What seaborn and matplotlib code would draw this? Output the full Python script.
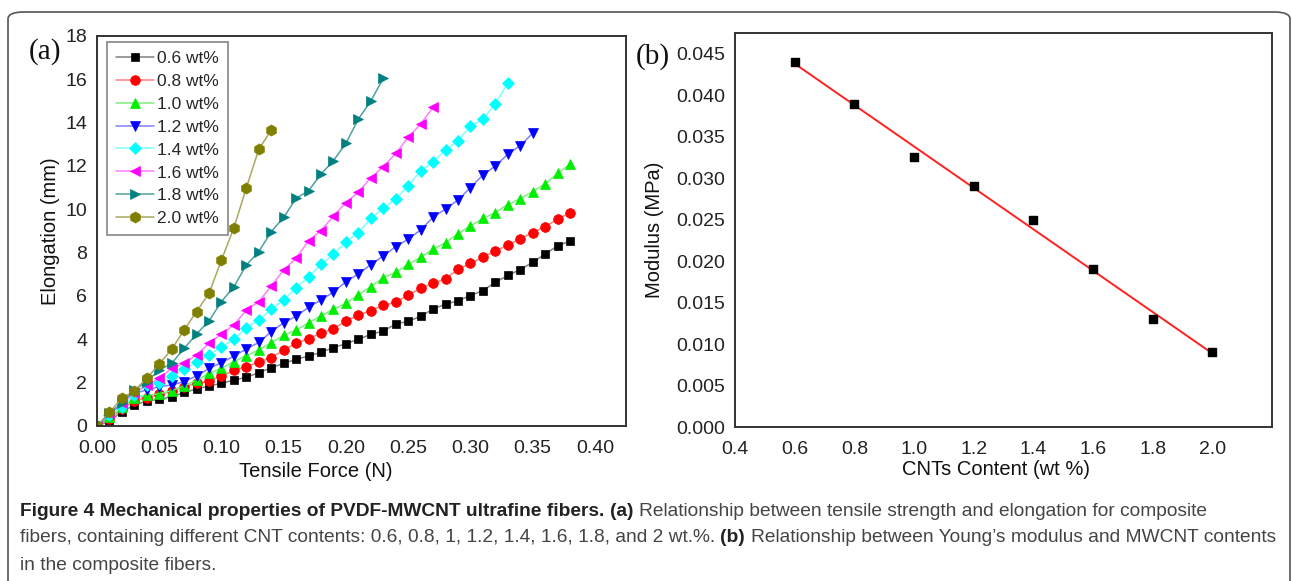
import numpy as np
import pandas as pd
import seaborn as sns
import matplotlib.pyplot as plt
from matplotlib.patches import FancyBboxPatch
from matplotlib.ticker import MultipleLocator

# ---- data ----
force = [0.00, 0.01, 0.02, 0.03, 0.04, 0.05, 0.06, 0.07, 0.08, 0.09,
         0.10, 0.11, 0.12, 0.13, 0.14, 0.15, 0.16, 0.17, 0.18, 0.19,
         0.20, 0.21, 0.22, 0.23, 0.24, 0.25, 0.26, 0.27, 0.28, 0.29,
         0.30, 0.31, 0.32, 0.33, 0.34, 0.35, 0.36, 0.37, 0.38]

elong_06 = [0, 0.23, 0.66, 0.97, 1.15, 1.23, 1.35, 1.55, 1.71, 1.85,
            1.97, 2.12, 2.25, 2.46, 2.69, 2.89, 3.08, 3.23, 3.40, 3.62,
            3.80, 4.00, 4.23, 4.38, 4.71, 4.83, 5.06, 5.40, 5.62, 5.78,
            6.02, 6.25, 6.63, 6.95, 7.22, 7.55, 7.94, 8.31, 8.54]
elong_08 = [0, 0.34, 0.77, 1.17, 1.31, 1.46, 1.60, 1.82, 1.97, 2.08,
            2.30, 2.57, 2.74, 2.95, 3.15, 3.51, 3.82, 4.03, 4.28, 4.48,
            4.85, 5.11, 5.32, 5.57, 5.71, 6.05, 6.35, 6.58, 6.80, 7.23,
            7.51, 7.78, 8.08, 8.34, 8.65, 8.92, 9.20, 9.54, 9.85]
elong_10 = [0, 0.40, 0.86, 1.28, 1.43, 1.48, 1.63, 1.85, 2.12, 2.43,
            2.66, 2.97, 3.25, 3.51, 3.85, 4.18, 4.43, 4.77, 5.09, 5.38,
            5.66, 6.06, 6.43, 6.85, 7.09, 7.46, 7.78, 8.15, 8.46, 8.88,
            9.23, 9.58, 9.85, 10.22, 10.49, 10.82, 11.17, 11.66, 12.08]
elong_12 = [0, 0.46, 1.05, 1.51, 1.66, 1.82, 1.89, 2.05, 2.31, 2.66,
            2.92, 3.23, 3.55, 3.86, 4.35, 4.77, 5.06, 5.48, 5.82, 6.18,
            6.66, 7.02, 7.45, 7.85, 8.28, 8.62, 9.05, 9.63, 10.02, 10.43,
            11.00, 11.58, 12.00, 12.54, 12.94, 13.51]
elong_14 = [0, 0.51, 0.89, 1.43, 1.89, 2.00, 2.31, 2.62, 2.94, 3.28,
            3.66, 4.00, 4.54, 4.89, 5.38, 5.82, 6.38, 6.88, 7.46, 7.92,
            8.51, 8.92, 9.58, 10.05, 10.48, 11.09, 11.77, 12.20, 12.74, 13.15,
            13.85, 14.15, 14.88, 15.82]
elong_16 = [0, 0.58, 1.05, 1.54, 1.89, 2.20, 2.66, 2.89, 3.28, 3.82,
            4.25, 4.66, 5.35, 5.74, 6.46, 7.20, 7.74, 8.55, 9.02, 9.69,
            10.31, 10.80, 11.45, 11.97, 12.58, 13.32, 13.94, 14.71]
elong_18 = [0, 0.58, 1.05, 1.66, 2.05, 2.58, 2.89, 3.58, 4.25, 4.85,
            5.74, 6.43, 7.43, 8.05, 8.97, 9.63, 10.51, 10.86, 11.63, 12.25,
            13.05, 14.17, 15.00, 16.05]
elong_20 = [0, 0.63, 1.28, 1.63, 2.20, 2.86, 3.54, 4.43, 5.28, 6.12,
            7.66, 9.15, 11.00, 12.77, 13.66]

series_labels = ['0.6 wt%', '0.8 wt%', '1.0 wt%', '1.2 wt%',
                 '1.4 wt%', '1.6 wt%', '1.8 wt%', '2.0 wt%']

cnt_content = [0.6, 0.8, 1.0, 1.2, 1.4, 1.6, 1.8, 2.0]
modulus = [0.0440, 0.0390, 0.0326, 0.0290, 0.0250, 0.0190, 0.0130, 0.0091]

force_ticks = [0.00, 0.05, 0.10, 0.15, 0.20, 0.25, 0.30, 0.35, 0.40]
force_ticklabels = ['0.00', '0.05', '0.10', '0.15', '0.20', '0.25', '0.30', '0.35', '0.40']
cnt_ticks = [0.4, 0.6, 0.8, 1.0, 1.2, 1.4, 1.6, 1.8, 2.0]
cnt_ticklabels = ['0.4', '0.6', '0.8', '1.0', '1.2', '1.4', '1.6', '1.8', '2.0']

# ---- styles ----
marker_cols = ['#000000', '#ff0000', '#00ee00', '#0000ff',
               '#00ffff', '#ff00ff', '#008080', '#808000']
line_cols = ['#808080', '#ff8080', '#80ee80', '#8080ff',
             '#80ffff', '#ff80ff', '#50a0a0', '#a8a860']
markers = ['s', 'o', '^', 'v', 'D', '<', '>', 'h']
msizes = [6, 7, 7.5, 7.5, 6.5, 7.5, 7.5, 8]

sns.set_style('white')
plt.rcParams['font.family'] = ['Liberation Sans', 'DejaVu Sans']

W, H = 1292, 581
fig = plt.figure(figsize=(W / 100, H / 100), dpi=100)
fig.patch.set_facecolor('white')


def px_axes(l, t, r, b):
    return fig.add_axes([l / W, 1 - b / H, (r - l) / W, (b - t) / H])


def style_axes(ax):
    for s in ax.spines.values():
        s.set_color('#333333')
        s.set_linewidth(1.4)
    ax.tick_params(which='both', direction='in', top=False, right=False,
                   colors='#222222', width=1.3, labelsize=14)
    ax.tick_params(which='major', length=6)
    ax.tick_params(which='minor', length=3.5)
    ax.tick_params(axis='x', which='major', pad=10)
    ax.tick_params(axis='y', which='major', pad=7)


# ---- panel (a) ----
ax1 = px_axes(97, 36, 626, 426)
all_elong = [elong_06, elong_08, elong_10, elong_12,
             elong_14, elong_16, elong_18, elong_20]
for i, ys in enumerate(all_elong):
    df = pd.DataFrame({'force': force[:len(ys)], 'elong': ys})
    sns.lineplot(data=df, x='force', y='elong', ax=ax1, estimator=None,
                 color=line_cols[i], lw=1.1, marker=markers[i],
                 markersize=msizes[i], markerfacecolor=marker_cols[i],
                 markeredgecolor=marker_cols[i], markeredgewidth=0.5,
                 label=series_labels[i])

ax1.set_xlim(0, 0.425)
ax1.set_ylim(0, 18)
ax1.set_xticks(force_ticks)
ax1.set_xticklabels(force_ticklabels)
ax1.xaxis.set_minor_locator(MultipleLocator(0.025))
ax1.yaxis.set_major_locator(MultipleLocator(2))
ax1.yaxis.set_minor_locator(MultipleLocator(1))
style_axes(ax1)
ax1.set_xlabel('Tensile Force (N)', fontsize=14.5, color='#111111')
ax1.set_ylabel('Elongation (mm)', fontsize=14.5, color='#111111')
ax1.xaxis.set_label_coords(0.414, -0.092)
ax1.yaxis.set_label_coords(-0.07, 0.5)
leg = ax1.legend(loc='upper left', bbox_to_anchor=(0.019, 0.985), borderaxespad=0,
                 frameon=True, fancybox=False, edgecolor='#666666', fontsize=12.5,
                 handlelength=2.2, handletextpad=0.2, labelspacing=0.45,
                 borderpad=0.5, numpoints=1)
leg.get_frame().set_linewidth(1.2)
fig.text(45 / W, 1 - 52 / H, '(a)', family=['Liberation Serif', 'DejaVu Serif'],
         fontsize=21, ha='center', va='center', color='#111111')

# ---- panel (b) ----
ax2 = px_axes(735, 33, 1272, 427)
dfb = pd.DataFrame({'cnt': cnt_content, 'modulus': modulus})
sns.regplot(data=dfb, x='cnt', y='modulus', ax=ax2, ci=None, truncate=True,
            marker='s', color='black',
            scatter_kws={'s': 30, 'color': 'black', 'alpha': 1, 'zorder': 3},
            line_kws={'color': '#ff2020', 'lw': 1.4, 'zorder': 2})
ax2.set_xlim(0.4, 2.2)
ax2.set_ylim(0, 0.0475)
ax2.set_xticks(cnt_ticks)
ax2.set_xticklabels(cnt_ticklabels)
ax2.xaxis.set_minor_locator(MultipleLocator(0.1))
ax2.yaxis.set_major_locator(MultipleLocator(0.005))
ax2.yaxis.set_minor_locator(MultipleLocator(0.0025))
ax2.yaxis.set_major_formatter(plt.FuncFormatter(lambda v, p: f'{v:.3f}'))
style_axes(ax2)
ax2.set_xlabel('CNTs Content (wt %)', fontsize=14.5, color='#111111')
ax2.set_ylabel('Modulus (MPa)', fontsize=14.5, color='#111111')
ax2.xaxis.set_label_coords(0.486, -0.084)
ax2.yaxis.set_label_coords(-0.132, 0.5)
fig.text(653 / W, 1 - 57 / H, '(b)', family=['Liberation Serif', 'DejaVu Serif'],
         fontsize=21, ha='center', va='center', color='#111111')

# ---- outer rounded frame ----
frame = FancyBboxPatch((8 / W, -0.05), (1290 - 8) / W, (H - 12) / H + 0.05,
                       boxstyle='round,pad=0,rounding_size=0.012',
                       transform=fig.transFigure, facecolor='none',
                       edgecolor='#555555', lw=1.2)
fig.patches.append(frame)

# ---- caption ----
cap_font = ['Liberation Sans', 'DejaVu Sans']
cap_lines = [
    [('Figure 4 Mechanical properties of PVDF-MWCNT ultrafine fibers. ', True),
     ('(a) ', True),
     ('Relationship between tensile strength and elongation for composite', False)],
    [('fibers, containing different CNT contents: 0.6, 0.8, 1, 1.2, 1.4, 1.6, 1.8, and 2 wt.%. ', False),
     ('(b) ', True),
     ('Relationship between Young\u2019s modulus and MWCNT contents', False)],
    [('in the composite fibers.', False)],
]
cap_y = [511, 538, 565]
renderer = fig.canvas.get_renderer()
for runs, yy in zip(cap_lines, cap_y):
    x = 20
    for txt, bold in runs:
        t = fig.text(x / W, 1 - yy / H, txt, family=cap_font, fontsize=13.8,
                     fontweight='bold' if bold else 'normal',
                     color='#222222' if bold else '#444444', va='center')
        x += t.get_window_extent(renderer).width

fig.savefig('out.png', dpi=100, facecolor='white')
